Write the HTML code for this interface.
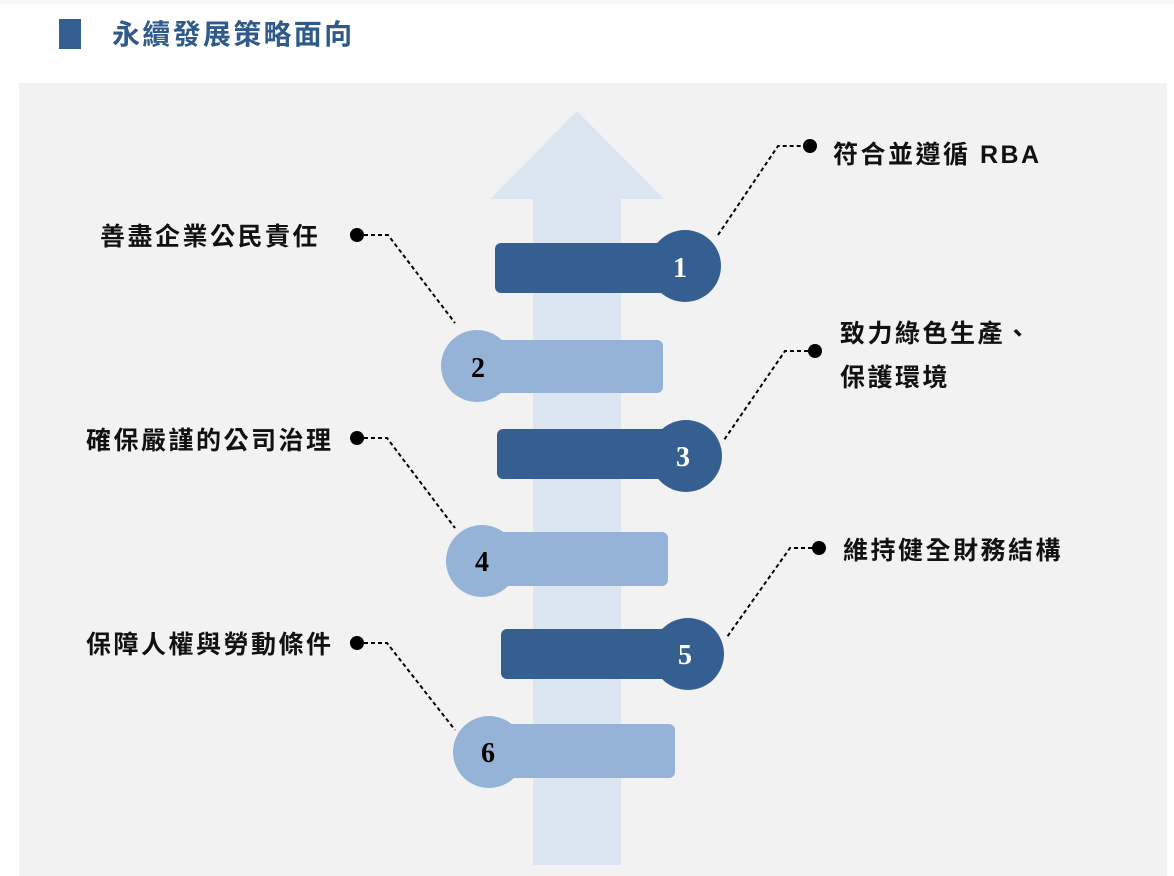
<!DOCTYPE html>
<html><head><meta charset="utf-8"><style>
body{margin:0;width:1174px;height:876px;background:#fff;overflow:hidden;font-family:"Liberation Sans","Noto Sans CJK TC",sans-serif}
</style></head><body>
<svg width="1174" height="876" xmlns="http://www.w3.org/2000/svg" style="position:absolute;left:0;top:0">
<rect x="0" y="0" width="1174" height="4" fill="#f8f8f8"/>
<rect x="59" y="19" width="22" height="30" fill="#355f91"/>
<text x="112" y="44" font-family="Liberation Sans,Noto Sans CJK TC,sans-serif" font-size="28" letter-spacing="2.3" font-weight="bold" fill="#2f5a8a">永續發展策略面向</text>
<rect x="19" y="83" width="1148" height="793" fill="#f2f2f2"/>
<polygon points="577,111 664,199 621,199 621,865 533,865 533,199 490,199" fill="#dce6f2"/>
<g fill="#355f91">
<rect x="495" y="243" width="200" height="50" rx="6"/><circle cx="685" cy="266" r="36"/>
<rect x="497" y="429" width="195" height="50" rx="6"/><circle cx="686" cy="456" r="36"/>
<rect x="501" y="629" width="190" height="50" rx="6"/><circle cx="688" cy="654" r="36"/>
</g>
<g fill="#95b3d7">
<rect x="470" y="340" width="193" height="53" rx="6"/><circle cx="477" cy="366" r="36"/>
<rect x="475" y="532" width="193" height="54" rx="6"/><circle cx="482" cy="561" r="36"/>
<rect x="482" y="724" width="193" height="54" rx="6"/><circle cx="489" cy="752" r="36"/>
</g>
<g font-family="Liberation Serif,serif" font-weight="bold" font-size="28" text-anchor="middle">
<text x="680" y="277" fill="#fff">1</text>
<text x="478" y="377" fill="#000">2</text>
<text x="683" y="466" fill="#fff">3</text>
<text x="482" y="571" fill="#000">4</text>
<text x="685" y="664" fill="#fff">5</text>
<text x="488" y="762" fill="#000">6</text>
</g>
<g stroke="#000" stroke-width="2" stroke-dasharray="4,3" fill="none">
<polyline points="718,235 778,146 810,146"/>
<polyline points="357,235 388,235 455,323"/>
<polyline points="815,351 785,351 724,440"/>
<polyline points="357,438 387,438 455,528"/>
<polyline points="819,548 790,548 727,637"/>
<polyline points="357,643 387,643 455,730"/>
</g>
<g fill="#000">
<circle cx="810" cy="146" r="7"/><circle cx="357" cy="235" r="7"/><circle cx="815" cy="351" r="7"/>
<circle cx="357" cy="438" r="7"/><circle cx="819" cy="548" r="7"/><circle cx="357" cy="643" r="7"/>
</g>
<g font-family="Liberation Sans,Noto Sans CJK TC,sans-serif" font-size="25" letter-spacing="2.5" font-weight="bold" fill="#111">
<text x="833" y="163">符合並遵循 RBA</text>
<text x="100" y="245">善盡企業公民責任</text>
<text x="840" y="342">致力綠色生產、</text>
<text x="840" y="386">保護環境</text>
<text x="86" y="449">確保嚴謹的公司治理</text>
<text x="843" y="559">維持健全財務結構</text>
<text x="86" y="653">保障人權與勞動條件</text>
</g>
</svg>
</body></html>
